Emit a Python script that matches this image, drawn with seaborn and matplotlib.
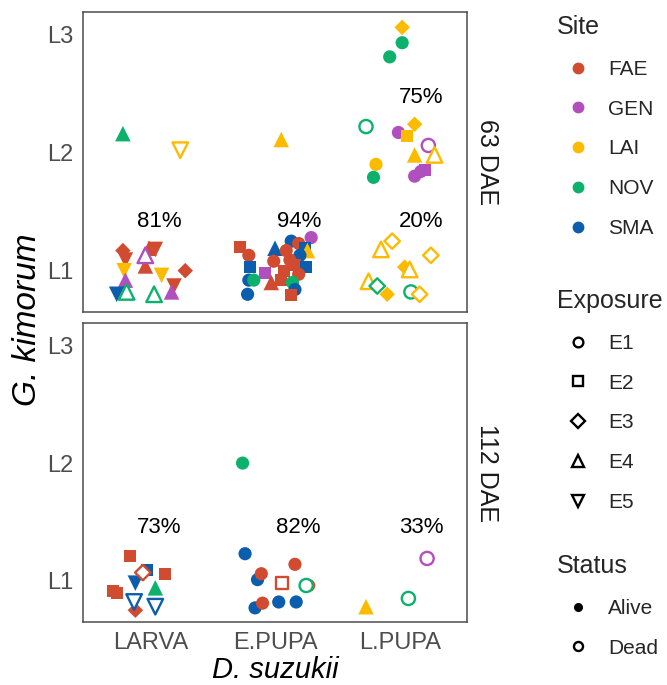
import matplotlib
matplotlib.use("Agg")
import matplotlib.pyplot as plt
import numpy as np
import pandas as pd
import seaborn as sns
from matplotlib.lines import Line2D

# ---------------- categories / styles ----------------
stages = ["LARVA", "E.PUPA", "L.PUPA"]
panels = ["63 DAE", "112 DAE"]
level_ticks = [1, 2, 3]
level_labels = ["L1", "L2", "L3"]
sites = ["FAE", "GEN", "LAI", "NOV", "SMA"]
site_colors = ["#D04B2F", "#B24FBE", "#FDBB00", "#0CB26C", "#0B5DAE"]
exposures = ["E1", "E2", "E3", "E4", "E5"]
statuses = ["Alive", "Dead"]

# ---------------- 63 DAE ----------------
l63_site = "FAE FAE FAE FAE GEN FAE LAI GEN SMA NOV LAI NOV FAE FAE GEN NOV LAI".split()
l63_exp = "E3 E5 E4 E5 E4 E4 E5 E4 E5 E4 E5 E4 E3 E5 E4 E4 E5".split()
l63_stat = "A A A A D A A A A D A D A A A A D".split()
l63_jit = [-0.22, -0.20, -0.01, 0.04, -0.04, -0.04, -0.21, -0.20, -0.27, -0.19, 0.09, 0.03, 0.28, 0.19, 0.17, -0.22, 0.24]
l63_lev = [1.17, 1.09, 1.19, 1.18, 1.13, 1.04, 1.00, 0.92, 0.80, 0.82, 0.96, 0.80, 1.00, 0.87, 0.82, 2.16, 2.02]

e63_site = ("FAE FAE SMA SMA FAE GEN SMA LAI FAE SMA FAE SMA FAE FAE SMA FAE GEN SMA NOV "
            "FAE FAE NOV SMA SMA FAE FAE LAI").split()
e63_exp = ("E2 E1 E4 E1 E1 E1 E2 E4 E1 E2 E1 E1 E2 E2 E2 E1 E2 E1 E1 "
           "E4 E2 E1 E1 E1 E2 E1 E4").split()
e63_stat = ["A"] * 27
e63_jit = [-0.28, -0.21, 0.00, 0.13, 0.19, 0.29, 0.24, 0.26, 0.09, -0.20, -0.01, 0.20, 0.16, 0.07,
           0.25, 0.19, -0.08, -0.21, -0.17, -0.03, 0.05, 0.14, 0.16, -0.22, 0.13, 0.12, 0.05]
e63_lev = [1.20, 1.13, 1.19, 1.25, 1.23, 1.28, 1.19, 1.17, 1.17, 1.03, 1.08, 1.13, 1.05, 1.00,
           1.03, 0.97, 0.98, 0.92, 0.92, 0.90, 0.92, 0.90, 0.84, 0.80, 0.79, 1.09, 2.11]

p63_site = ("LAI NOV NOV NOV GEN LAI LAI GEN LAI LAI LAI NOV GEN GEN GEN "
            "LAI LAI LAI LAI LAI LAI NOV LAI NOV LAI").split()
p63_exp = ("E3 E1 E1 E1 E1 E3 E2 E1 E4 E4 E1 E1 E1 E2 E1 "
           "E3 E4 E3 E3 E4 E4 E3 E3 E1 E3").split()
p63_stat = "A A A D A A A D A D A A A A A D D D A D D D A D D".split()
p63_jit = [0.02, 0.02, -0.08, -0.27, -0.01, 0.12, 0.06, 0.23, 0.12, 0.28, -0.19, -0.21, 0.12, 0.20, 0.17,
           -0.06, -0.15, 0.25, 0.04, 0.08, -0.25, -0.18, -0.10, 0.09, 0.16]
p63_lev = [3.06, 2.93, 2.81, 2.22, 2.17, 2.24, 2.14, 2.06, 1.98, 1.98, 1.90, 1.79, 1.80, 1.85, 1.84,
           1.25, 1.18, 1.13, 1.03, 1.01, 0.91, 0.87, 0.80, 0.82, 0.80]

# ---------------- 112 DAE ----------------
l112_site = "FAE SMA FAE FAE SMA NOV FAE FAE SMA SMA FAE".split()
l112_exp = "E2 E2 E3 E2 E5 E4 E2 E2 E5 E5 E3".split()
l112_stat = "A A D A A A A A D D A".split()
l112_jit = [-0.16, -0.03, -0.06, 0.12, -0.12, 0.04, -0.30, -0.27, -0.13, 0.04, -0.12]
l112_lev = [1.21, 1.09, 1.07, 1.06, 0.98, 0.94, 0.91, 0.90, 0.82, 0.78, 0.75]

e112_site = "NOV SMA FAE SMA FAE FAE FAE NOV SMA SMA SMA FAE".split()
e112_exp = "E1 E1 E1 E1 E1 E2 E1 E1 E1 E1 E1 E1".split()
e112_stat = "A A A A A D A D A A A A".split()
e112_jit = [-0.26, -0.24, 0.16, -0.14, -0.11, 0.06, 0.27, 0.25, 0.03, 0.17, -0.16, -0.10]
e112_lev = [2.00, 1.23, 1.14, 1.01, 1.06, 0.98, 0.96, 0.96, 0.82, 0.82, 0.77, 0.81]

p112_site = "GEN NOV LAI".split()
p112_exp = "E1 E1 E4".split()
p112_stat = "D D A".split()
p112_jit = [0.22, 0.07, -0.27]
p112_lev = [1.19, 0.85, 0.78]

# percentages shown in each panel
pct_63 = ["81%", "94%", "20%"]
pct_63_extra = "75%"
pct_112 = ["73%", "82%", "33%"]

# ---------------- build table ----------------
groups = [
    ("63 DAE", "LARVA", l63_site, l63_exp, l63_stat, l63_jit, l63_lev),
    ("63 DAE", "E.PUPA", e63_site, e63_exp, e63_stat, e63_jit, e63_lev),
    ("63 DAE", "L.PUPA", p63_site, p63_exp, p63_stat, p63_jit, p63_lev),
    ("112 DAE", "LARVA", l112_site, l112_exp, l112_stat, l112_jit, l112_lev),
    ("112 DAE", "E.PUPA", e112_site, e112_exp, e112_stat, e112_jit, e112_lev),
    ("112 DAE", "L.PUPA", p112_site, p112_exp, p112_stat, p112_jit, p112_lev),
]
frames = []
for dae, stg, s, e, st, j, lv in groups:
    frames.append(pd.DataFrame({
        "dae": dae, "stage": stg, "site": s, "exposure": e,
        "status": ["Alive" if v == "A" else "Dead" for v in st],
        "jit": j, "level": lv,
    }))
df = pd.concat(frames, ignore_index=True)
df["xpos"] = df["stage"].map({s: i for i, s in enumerate(stages)}) + df["jit"]

# ---------------- figure ----------------
sns.set_style("white")
plt.rcParams["font.family"] = ["Liberation Sans", "DejaVu Sans"]

W, H = 667, 685
fig = plt.figure(figsize=(W / 100, H / 100), dpi=100)
ax_top = fig.add_axes([83 / W, 1 - 312 / H, 384 / W, 300 / H])
ax_bot = fig.add_axes([83 / W, 1 - 622 / H, 384 / W, 299 / H])

palette = dict(zip(sites, site_colors))
markers = {"E1": "o", "E2": "s", "E3": "D", "E4": "^", "E5": "v"}
sizes = {"E1": 90, "E2": 75, "E3": 62, "E4": 125, "E5": 125}

for ax, dae in [(ax_top, "63 DAE"), (ax_bot, "112 DAE")]:
    sub = df[df["dae"] == dae]
    for stat in statuses:
        part = sub[sub["status"] == stat]
        if part.empty:
            continue
        n_before = len(ax.collections)
        sns.scatterplot(data=part, x="xpos", y="level", hue="site", hue_order=sites,
                        palette=palette, style="exposure", style_order=exposures,
                        markers=markers, size="exposure", size_order=exposures,
                        sizes=sizes, linewidth=0, edgecolor="none", legend=False, ax=ax)
        if stat == "Dead":
            for coll in ax.collections[n_before:]:
                fc = coll.get_facecolors()
                coll.set_edgecolors(fc)
                coll.set_facecolors("white")
                coll.set_linewidths(1.7)
    ax.set_xlim(-0.54, 2.54)
    ax.set_ylim(0.65, 3.19)
    ax.set_yticks(level_ticks)
    ax.set_yticklabels(level_labels)
    ax.set_xticks(range(len(stages)))
    ax.set_xlabel("")
    ax.set_ylabel("")
    ax.tick_params(axis="both", length=0, labelsize=17, labelcolor="#4D4D4D", pad=7)
    for sp in ax.spines.values():
        sp.set_color("#4D4D4D")
        sp.set_linewidth(1.1)
    ax.text(1.052, 0.5, dae, transform=ax.transAxes, rotation=-90, ha="center",
            va="center", fontsize=18, color="#1A1A1A")

ax_top.set_xticklabels([])
ax_bot.set_xticklabels(stages)

pct_x = [0.07, 1.19, 2.17]
for i, t in enumerate(pct_63):
    ax_top.text(pct_x[i], 1.42, t, ha="center", va="center", fontsize=16, color="black")
ax_top.text(pct_x[2], 2.47, pct_63_extra, ha="center", va="center", fontsize=16, color="black")
for i, t in enumerate(pct_112):
    ax_bot.text(pct_x[i], 1.45, t, ha="center", va="center", fontsize=16, color="black")

fig.text(28 / W, 1 - 320 / H, "G. kimorum", rotation=90, ha="center", va="center",
         fontsize=24, style="italic", color="black")
fig.text(275 / W, 1 - 670 / H, "D. suzukii", ha="center", va="center",
         fontsize=21, style="italic", color="black")

# ---------------- legends ----------------
common = dict(loc="upper left", frameon=False, fontsize=15, title_fontsize=18,
              labelspacing=1.0, handlelength=2.0, handletextpad=0.45,
              borderpad=0, borderaxespad=0, alignment="left")

site_handles = [Line2D([], [], ls="", marker="o", markersize=8.5, color=c, markeredgewidth=0)
                for c in site_colors]
leg1 = fig.legend(site_handles, sites, title="Site", bbox_to_anchor=(557 / W, 1 - 15 / H), **common)

exp_handles = [Line2D([], [], ls="", marker=markers[e], markersize=7 if e in ("E1", "E2", "E3") else 8,
                      markerfacecolor="white", markeredgecolor="black", markeredgewidth=1.7)
               for e in exposures]
leg2 = fig.legend(exp_handles, exposures, title="Exposure", bbox_to_anchor=(557 / W, 1 - 289 / H), **common)

stat_handles = [Line2D([], [], ls="", marker="o", markersize=6.5, color="black", markeredgewidth=0),
                Line2D([], [], ls="", marker="o", markersize=6.5, markerfacecolor="white",
                       markeredgecolor="black", markeredgewidth=1.7)]
leg3 = fig.legend(stat_handles, statuses, title="Status", bbox_to_anchor=(557 / W, 1 - 554 / H), **common)

fig.savefig("out.png", dpi=100)
